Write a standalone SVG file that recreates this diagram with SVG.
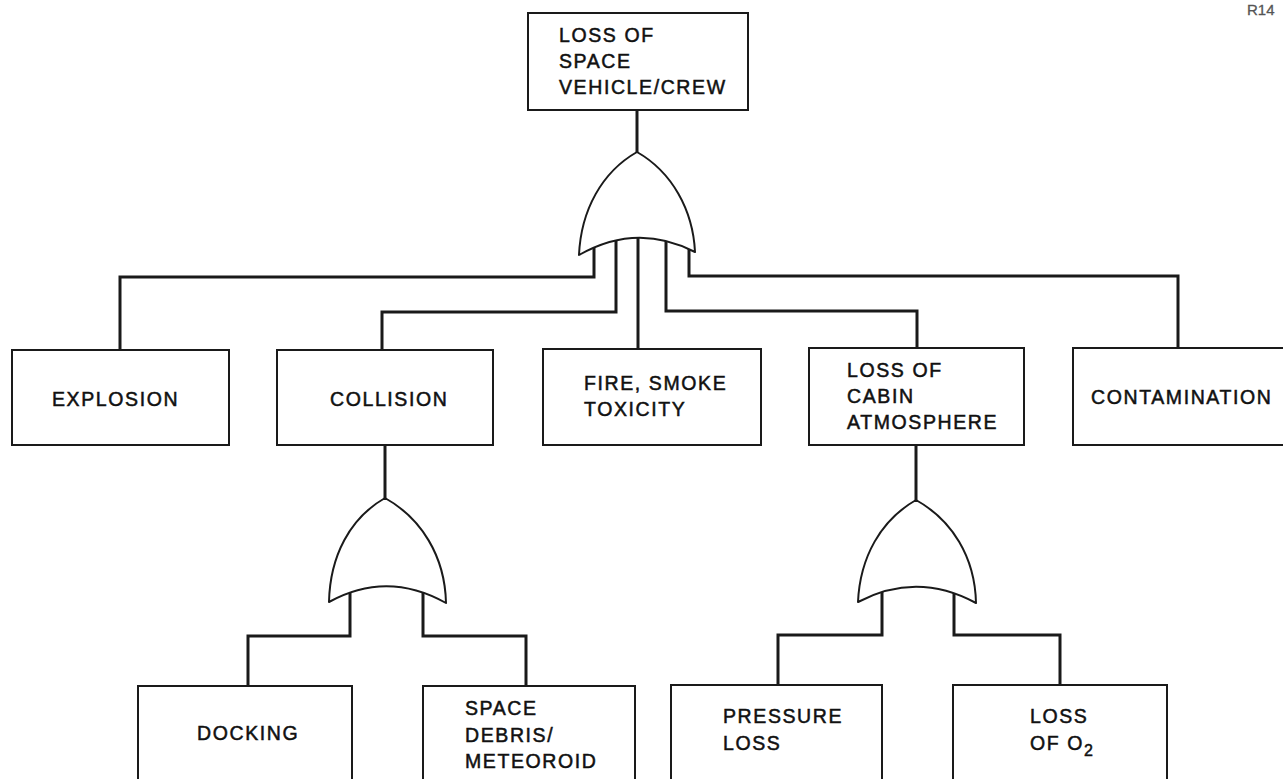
<svg xmlns="http://www.w3.org/2000/svg" width="1283" height="779" viewBox="0 0 1283 779">
<style>
.box{fill:#fff;stroke:#1a1a1a;stroke-width:2}
.gate{fill:#fff;stroke:#1a1a1a;stroke-width:2;stroke-linejoin:round}
.conn{fill:none;stroke:#1a1a1a;stroke-width:3;stroke-linejoin:miter}
.t{font-family:"Liberation Sans",Arial,sans-serif;font-size:19.5px;letter-spacing:1.6px;fill:#111;stroke:#111;stroke-width:0.5}
.small{font-family:"Liberation Sans",Arial,sans-serif;font-size:15px;fill:#555;stroke:#555;stroke-width:0.3}
</style>
<rect width="1283" height="779" fill="#fff"/>
<text class="small" x="1247" y="15">R14</text>
<g id="connectors">
<path class="conn" d="M637,110 V152"/>
<path class="conn" d="M594,238 V277 H120 V350"/>
<path class="conn" d="M616,236 V312 H382 V350"/>
<path class="conn" d="M638,236 V349"/>
<path class="conn" d="M666,236 V311 H917 V348"/>
<path class="conn" d="M689,238 V276 H1178 V348"/>
<path class="conn" d="M385,445 V498"/>
<path class="conn" d="M350,588 V636 H248 V686"/>
<path class="conn" d="M423,588 V636 H526 V686"/>
<path class="conn" d="M916,445 V500"/>
<path class="conn" d="M882,590 V635 H778 V685"/>
<path class="conn" d="M954,590 V635 H1060 V685"/>
</g>
<g id="top">
<rect class="box" x="528" y="13" width="220" height="97"/>
<text class="t" x="559" y="42">LOSS OF</text>
<text class="t" x="559" y="68">SPACE</text>
<text class="t" x="559" y="94">VEHICLE/CREW</text>
</g>
<g id="gate-top">
<path class="gate" d="M637,152 C602,172 581,210 579,255 Q637,222 695,252 C693,210 672,172 637,152 Z"/>
</g>
<g id="explosion">
<rect class="box" x="12" y="350" width="217" height="95"/>
<text class="t" x="52" y="406">EXPLOSION</text>
</g>
<g id="collision">
<rect class="box" x="277" y="350" width="216" height="95"/>
<text class="t" x="330" y="406">COLLISION</text>
</g>
<g id="fire">
<rect class="box" x="543" y="349" width="218" height="96"/>
<text class="t" x="584" y="390">FIRE, SMOKE</text>
<text class="t" x="584" y="416">TOXICITY</text>
</g>
<g id="cabin">
<rect class="box" x="809" y="348" width="215" height="97"/>
<text class="t" x="847" y="377">LOSS OF</text>
<text class="t" x="847" y="403">CABIN</text>
<text class="t" x="847" y="429">ATMOSPHERE</text>
</g>
<g id="contamination">
<rect class="box" x="1073" y="348" width="220" height="97"/>
<text class="t" x="1091" y="404">CONTAMINATION</text>
</g>
<g id="gate-collision">
<path class="gate" d="M385,498 C350,518 330,556 329,602 Q387,570 446,603 C445,556 421,518 385,498 Z"/>
</g>
<g id="gate-cabin">
<path class="gate" d="M916,500 C881,520 860,557 858,602 Q917,571 976,603 C975,557 952,520 916,500 Z"/>
</g>
<g id="docking">
<rect class="box" x="138" y="686" width="214" height="100"/>
<text class="t" x="197" y="740">DOCKING</text>
</g>
<g id="debris">
<rect class="box" x="423" y="686" width="212" height="100"/>
<text class="t" x="465" y="715">SPACE</text>
<text class="t" x="465" y="742">DEBRIS/</text>
<text class="t" x="465" y="768">METEOROID</text>
</g>
<g id="pressure">
<rect class="box" x="671" y="685" width="211" height="101"/>
<text class="t" x="723" y="723">PRESSURE</text>
<text class="t" x="723" y="750">LOSS</text>
</g>
<g id="o2">
<rect class="box" x="953" y="685" width="214" height="101"/>
<text class="t" x="1030" y="723">LOSS</text>
<text class="t" x="1030" y="750">OF O<tspan font-size="16px" dy="6">2</tspan></text>
</g>
</svg>
